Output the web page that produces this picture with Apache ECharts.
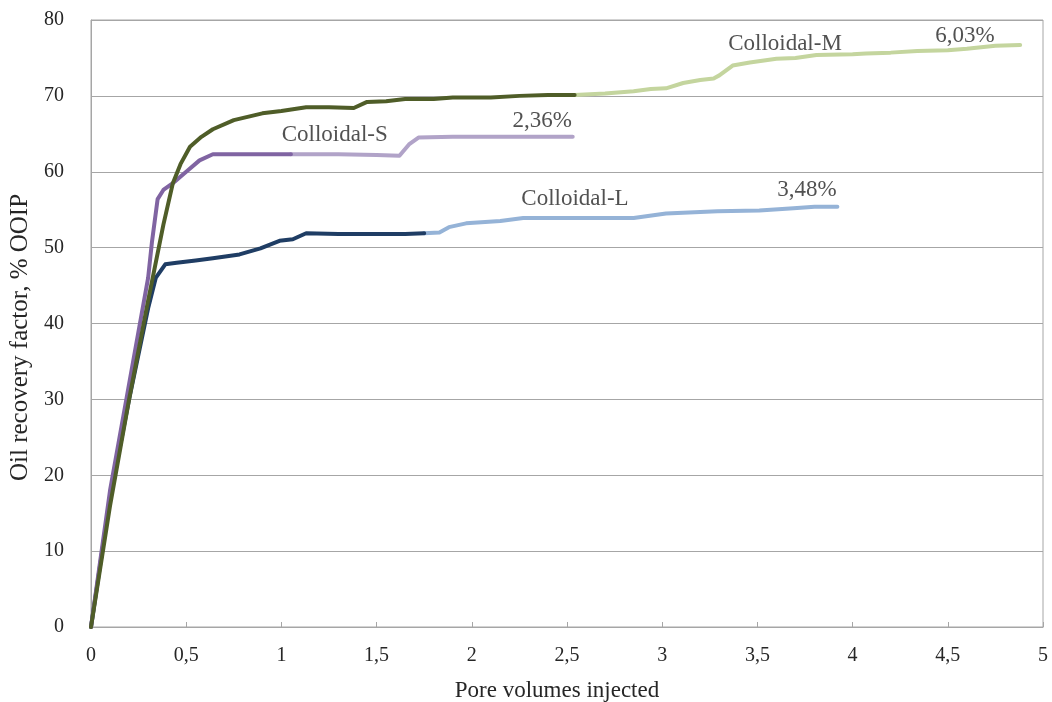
<!DOCTYPE html>
<html><head><meta charset="utf-8">
<script src="https://cdn.jsdelivr.net/npm/echarts@6/dist/echarts.min.js"></script>
<style>html,body{margin:0;padding:0;background:#fff}#c{width:1052px;height:702px}</style>
</head><body><div id="c"></div>
<script>
// Colloidal-M: waterflood (dark) then colloidal injection (light)
const mWater = [[0,0],[0.1,16],[0.2,30],[0.3,43],[0.38,53],[0.43,58.5],[0.47,61],[0.52,63.3],[0.58,64.6],[0.64,65.6],[0.75,66.8],[0.9,67.7],[1.0,68.0],[1.13,68.5],[1.25,68.5],[1.38,68.4],[1.45,69.2],[1.55,69.3],[1.65,69.6],[1.8,69.6],[1.9,69.8],[2.1,69.8],[2.25,70.0],[2.4,70.1],[2.54,70.1]];
const mColl = [[2.54,70.1],[2.7,70.3],[2.85,70.6],[2.94,70.9],[3.02,71.0],[3.11,71.7],[3.2,72.1],[3.27,72.3],[3.3,72.7],[3.37,74.0],[3.46,74.4],[3.6,74.9],[3.7,75.0],[3.81,75.4],[4.0,75.5],[4.07,75.6],[4.2,75.7],[4.34,75.9],[4.5,76.0],[4.6,76.2],[4.75,76.6],[4.88,76.7]];
// Colloidal-S
const sWater = [[0,0],[0.1,18],[0.2,32],[0.3,46],[0.32,50.7],[0.35,56.4],[0.38,57.6],[0.43,58.5],[0.5,60.0],[0.57,61.5],[0.64,62.3],[0.8,62.3],[1.05,62.3]];
const sColl = [[1.05,62.3],[1.3,62.3],[1.5,62.2],[1.62,62.1],[1.67,63.6],[1.72,64.5],[1.9,64.6],[2.2,64.6],[2.53,64.6]];
// Colloidal-L
const lWater = [[0,0],[0.1,17],[0.2,30],[0.3,42],[0.34,46],[0.39,47.8],[0.45,48.0],[0.55,48.3],[0.64,48.6],[0.78,49.1],[0.89,49.9],[0.99,50.9],[1.06,51.1],[1.13,51.9],[1.3,51.8],[1.52,51.8],[1.65,51.8],[1.75,51.9]];
const lColl = [[1.75,51.9],[1.83,52.0],[1.88,52.7],[1.97,53.2],[2.15,53.5],[2.27,53.9],[2.5,53.9],[2.85,53.9],[3.02,54.5],[3.11,54.6],[3.29,54.8],[3.51,54.9],[3.69,55.2],[3.8,55.4],[3.92,55.4]];

const annotations = [
  {text:'Colloidal-M', x:3.645, y:76.8},
  {text:'6,03%', x:4.59, y:77.9},
  {text:'Colloidal-S', x:1.28, y:64.8},
  {text:'2,36%', x:2.37, y:66.7},
  {text:'Colloidal-L', x:2.542, y:56.4},
  {text:'3,48%', x:3.76, y:57.6}
];
const xTicks = {min:0, max:5, step:0.5};
const yTicks = {min:0, max:80, step:10};

const serif = '"Liberation Serif","DejaVu Serif",serif';
const ink = '#262626';
function ln(data, color, w){
  return {type:'line', data, showSymbol:false, symbol:'none', smooth:false,
    lineStyle:{color, width:w, cap:'round', join:'round'}, itemStyle:{color}, animation:false, z:3};
}
const chart = echarts.init(document.getElementById('c'), null, {renderer:'canvas'});
chart.setOption({
  backgroundColor:'#fff',
  animation:false,
  grid:{left:91, right:9, top:20, bottom:75, show:true, borderColor:'#a6a6a6', borderWidth:1,
    containLabel:false, outerBoundsMode:'none'},
  xAxis:{type:'value', min:xTicks.min, max:xTicks.max, interval:xTicks.step,
    name:'Pore volumes injected', nameLocation:'middle', nameGap:52,
    nameTextStyle:{fontFamily:serif, fontSize:23, color:ink, padding:[0,20,0,0]},
    axisLine:{show:true, lineStyle:{color:'#a6a6a6', width:1}},
    axisTick:{show:true, inside:true, length:5, lineStyle:{color:'#a6a6a6'}},
    splitLine:{show:false},
    axisLabel:{fontFamily:serif, fontSize:20, color:ink, margin:19,
      formatter:v=>String(v).replace('.',',')}},
  yAxis:{type:'value', min:yTicks.min, max:yTicks.max, interval:yTicks.step,
    name:'Oil recovery factor, % OOIP', nameLocation:'middle', nameGap:57, nameRotate:90,
    nameTextStyle:{fontFamily:serif, fontSize:25, color:ink, padding:[0,28,0,0]},
    axisLine:{show:true, lineStyle:{color:'#a6a6a6', width:1}},
    axisTick:{show:false},
    splitLine:{show:true, lineStyle:{color:'#a6a6a6', width:1}},
    axisLabel:{fontFamily:serif, fontSize:20, color:ink, margin:27}},
  series:[
    ln(mColl,'#c4d59e',4),
    ln(sColl,'#b1a3c8',4),
    ln(lColl,'#95b3d7',4),
    ln(lWater,'#1f3d64',4),
    ln(sWater,'#8064a2',4),
    ln(mWater,'#4f5d28',4),
    {type:'scatter', data:annotations.map(a=>({value:[a.x,a.y], name:a.text})),
      symbolSize:0, silent:true, z:5,
      label:{show:true, position:'inside', formatter:p=>p.name,
        fontFamily:serif, fontSize:23, color:ink}}
  ]
});
</script></body></html>
